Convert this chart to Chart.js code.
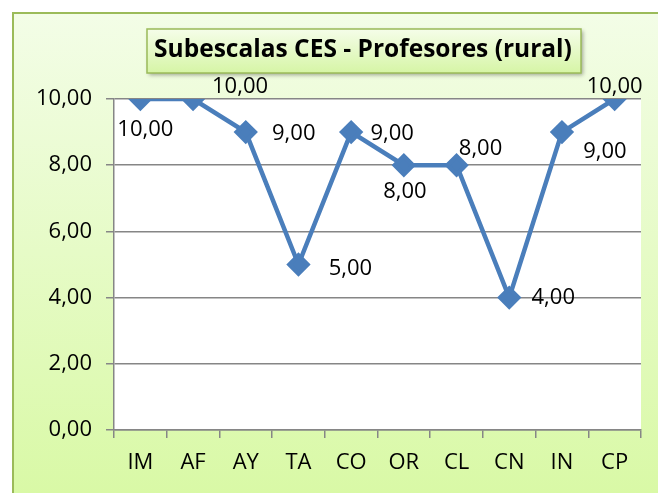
<!DOCTYPE html>
<html>
<head>
<meta charset="utf-8">
<script src="https://cdn.jsdelivr.net/npm/chart.js@4"></script>
<style>
  html, body { margin: 0; padding: 0; background: #fff; }
  #wrap { width: 658px; height: 493px; position: relative; }
</style>
</head>
<body>
<div id="wrap"><canvas id="chart" width="658" height="493"></canvas></div>
<script>
// ===== Datos =====
const categorias = ["IM", "AF", "AY", "TA", "CO", "OR", "CL", "CN", "IN", "CP"];
const valores = [10, 10, 9, 5, 9, 8, 8, 4, 9, 10];
const yTicks = [0, 2, 4, 6, 8, 10];
const titulo = "Subescalas CES - Profesores (rural)";

// desplazamiento de cada etiqueta respecto a su punto (estilo)
const etiquetaOffset = [
    [5, 31], [47, -12], [48, 2], [52, 4], [41, 2],
    [1, 27], [24, -16], [44, 0], [43, 20], [0, -12]
];

const fmt = v => v.toFixed(2).replace('.', ',');
const FONT = "'Open Sans', sans-serif";

// ===== Fondo, borde y título =====
const fondo = {
    id: 'fondo',
    beforeDraw(chart) {
        const ctx = chart.ctx;
        ctx.save();
        const g = ctx.createLinearGradient(0, 12, 0, 493);
        g.addColorStop(0, '#f3fde7');
        g.addColorStop(1, '#d9f9a6');
        ctx.fillStyle = g;
        ctx.fillRect(12, 12, 646, 481);
        ctx.strokeStyle = '#9bbb59';
        ctx.lineWidth = 2;
        ctx.beginPath();
        ctx.moveTo(13, 493);
        ctx.lineTo(13, 13);
        ctx.lineTo(658, 13);
        ctx.stroke();
        const a = chart.chartArea;
        ctx.fillStyle = '#ffffff';
        ctx.fillRect(a.left, a.top, a.right - a.left, a.bottom - a.top);
        ctx.restore();
    },
    afterDraw(chart) {
        const ctx = chart.ctx;
        ctx.save();
        // caja del título
        ctx.shadowColor = 'rgba(0,0,0,0.35)';
        ctx.shadowBlur = 4;
        ctx.shadowOffsetX = 2;
        ctx.shadowOffsetY = 2;
        const g = ctx.createLinearGradient(0, 29, 0, 73);
        g.addColorStop(0, '#f5fde9');
        g.addColorStop(1, '#d6f5a6');
        ctx.fillStyle = g;
        ctx.fillRect(147, 29, 434, 44);
        ctx.shadowColor = 'transparent';
        ctx.strokeStyle = '#9bbb59';
        ctx.lineWidth = 1.5;
        ctx.strokeRect(147, 29, 434, 44);
        ctx.fillStyle = '#000';
        ctx.font = "bold 24.5px " + FONT;
        ctx.textAlign = 'center';
        ctx.textBaseline = 'middle';
        ctx.fillText(titulo, 363, 50);

        // etiquetas de datos
        const meta = chart.getDatasetMeta(0);
        ctx.font = "22px " + FONT;
        meta.data.forEach((pt, i) => {
            const o = etiquetaOffset[i];
            ctx.fillText(fmt(valores[i]), pt.x + o[0], pt.y + o[1]);
        });
        ctx.restore();
    }
};

new Chart(document.getElementById('chart').getContext('2d'), {
    type: 'line',
    data: {
        labels: categorias,
        datasets: [{
            data: valores,
            borderColor: '#4a7ebb',
            backgroundColor: '#4a7ebb',
            borderWidth: 4.5,
            pointStyle: 'rectRot',
            pointRadius: 9,
            pointHoverRadius: 9,
            tension: 0,
            fill: false
        }]
    },
    options: {
        responsive: false,
        animation: false,
        events: [],
        layout: { padding: { top: 99, right: 17, left: 0, bottom: 0 } },
        plugins: {
            legend: { display: false },
            tooltip: { enabled: false }
        },
        scales: {
            x: {
                offset: true,
                grid: {
                    offset: true,
                    drawOnChartArea: false,
                    drawTicks: true,
                    tickLength: 8,
                    color: '#868686',
                    lineWidth: 1.5
                },
                border: { color: '#868686', width: 1.5 },
                ticks: {
                    color: '#000',
                    padding: 12,
                    maxRotation: 0,
                    font: { family: FONT, size: 22 }
                },
                afterFit: s => { s.height = 63; }
            },
            y: {
                min: 0,
                max: 10,
                afterBuildTicks: s => { s.ticks = yTicks.map(v => ({ value: v })); },
                grid: {
                    color: '#868686',
                    lineWidth: 1.5,
                    tickLength: 8
                },
                border: { color: '#868686', width: 1.5 },
                ticks: {
                    color: '#000',
                    padding: 14,
                    callback: v => fmt(v),
                    font: { family: FONT, size: 22 }
                },
                afterFit: s => { s.width = 114; }
            }
        }
    },
    plugins: [fondo]
});
</script>
</body>
</html>
